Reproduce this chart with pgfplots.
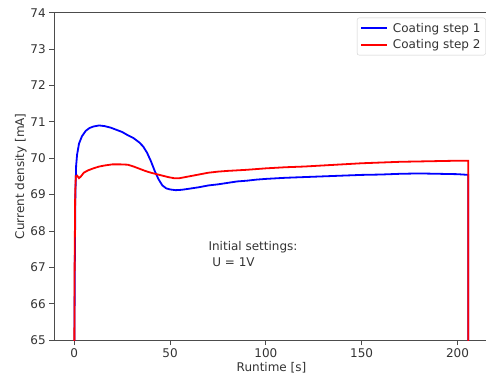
\documentclass[border=0pt]{standalone}
\usepackage{pgfplots}
\pgfplotsset{compat=1.18}
\usepackage{fontspec}
\setmainfont{DejaVu Sans}
\definecolor{spine}{gray}{0.3}
\begin{document}
\begin{tikzpicture}
\begin{axis}[
  at={(0,0)}, anchor=south west,
  scale only axis, width=434.4pt, height=327.3pt,
  xmin=-10.4, xmax=216.3, ymin=65, ymax=74,
  xtick={0,50,100,150,200}, ytick={65,66,67,68,69,70,71,72,73,74},
  tick align=outside, tick pos=left,
  major tick length=5pt,
  every tick/.style={spine, line width=0.8pt},
  axis line style={spine, line width=0.8pt},
  /pgf/number format/assume math mode=true,
  tick label style={font=\fontsize{12}{14}\selectfont, text=black!80},
  label style={font=\fontsize{12}{14}\selectfont, text=black!80},
  xlabel={Runtime [s]}, ylabel={Current density [mA]},
  xlabel style={yshift=2pt},
  ylabel style={yshift=-3pt},
  clip=true,
  legend cell align=left,
  legend style={at={(rel axis cs:1,1)}, anchor=north east, xshift=-3pt, yshift=-5pt,
    draw=black!20, rounded corners=2pt, font=\fontsize{12}{14}\selectfont, text=black!80,
    inner xsep=3pt, inner ysep=3pt, row sep=2pt,
    /tikz/every odd column/.append style={column sep=3pt}},
  legend image code/.code={\draw[#1, line width=1.8pt] (0pt,0pt) -- (26pt,0pt);},
]
\addplot[blue, line width=1.8pt] coordinates {
(0,64)(0.3,67)(0.6,69)(1,69.8)(1.5,70.1)(2.5,70.4)(4,70.6)(6,70.75)(8,70.83)(10,70.87)(13,70.9)(16,70.88)(19,70.84)(22,70.78)(25,70.72)(28,70.63)(31,70.55)(34,70.43)(36,70.32)(38,70.15)(40,69.92)(42,69.65)(44,69.42)(46,69.25)(48,69.17)(50,69.14)(53,69.12)(56,69.13)(60,69.16)(65,69.2)(70,69.25)(75,69.28)(80,69.32)(85,69.36)(90,69.38)(95,69.41)(100,69.43)(110,69.46)(120,69.48)(130,69.5)(140,69.52)(150,69.54)(160,69.55)(170,69.57)(180,69.58)(190,69.57)(200,69.56)(205.6,69.54)(205.6,64)
};
\addlegendentry{Coating step 1}
\addplot[red, line width=1.8pt] coordinates {
(0,64)(0.2,67)(0.5,69)(0.8,69.5)(1.5,69.52)(2.5,69.45)(3.5,69.5)(5,69.6)(7,69.66)(10,69.72)(13,69.77)(16,69.8)(20,69.83)(24,69.83)(28,69.82)(31,69.77)(34,69.71)(37,69.65)(40,69.6)(43,69.56)(46,69.52)(49,69.48)(52,69.45)(55,69.45)(58,69.48)(62,69.52)(66,69.56)(70,69.6)(75,69.63)(80,69.65)(90,69.68)(100,69.72)(110,69.75)(120,69.77)(130,69.8)(140,69.83)(150,69.86)(160,69.88)(170,69.9)(180,69.91)(190,69.92)(200,69.93)(205.6,69.93)(205.6,64)
};
\addlegendentry{Coating step 2}
\node[anchor=south west, inner sep=0pt, align=left, font=\fontsize{12}{16}\selectfont, text=black!80] at (axis cs:70,67) {Initial settings:\\ \ U = 1V};
\end{axis}
\pgfresetboundingbox
\useasboundingbox (-54.3pt,-37.7pt) rectangle (431.7pt,340pt);
\end{tikzpicture}
\end{document}
